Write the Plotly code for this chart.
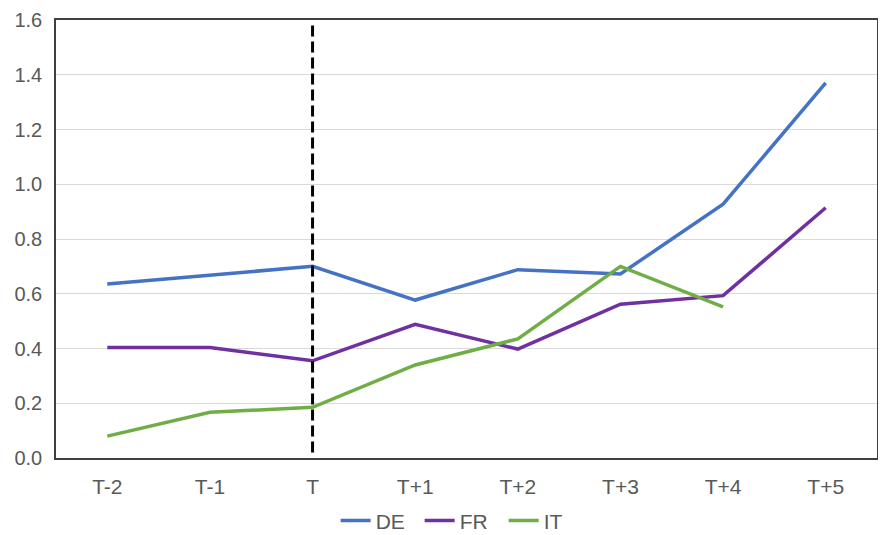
import plotly.graph_objects as go

# periods around the event T
periods = ["T-2", "T-1", "T", "T+1", "T+2", "T+3", "T+4", "T+5"]

de_values = [0.636, 0.667, 0.700, 0.577, 0.688, 0.672, 0.927, 1.370]
fr_values = [0.404, 0.404, 0.355, 0.488, 0.398, 0.562, 0.593, 0.914]
it_values = [0.080, 0.167, 0.185, 0.340, 0.435, 0.700, 0.552, None]

event_period = "T"

series = [
    ("DE", de_values, "#4472C4"),
    ("FR", fr_values, "#7030A0"),
    ("IT", it_values, "#70AD47"),
]

fig = go.Figure()

for name, vals, color in series:
    fig.add_trace(go.Scatter(
        x=periods,
        y=vals,
        name=name,
        mode="lines",
        line=dict(color=color, width=3.5),
    ))

# vertical dashed marker at T
fig.add_shape(
    type="line",
    xref="x", yref="y",
    x0=event_period, x1=event_period,
    y0=0.02, y1=1.58,
    line=dict(color="black", width=3, dash="11px,5px"),
)

fig.update_layout(
    width=886,
    height=535,
    margin=dict(l=48, r=17, t=12, b=85),
    paper_bgcolor="white",
    plot_bgcolor="white",
    font=dict(family="Liberation Sans, Arial, sans-serif", size=20, color="#595959"),
    showlegend=True,
    legend=dict(
        orientation="h",
        xref="container",
        x=0.512,
        xanchor="center",
        yref="container",
        y=0.003,
        yanchor="bottom",
        font=dict(size=21, color="#595959"),
        itemwidth=30,
        entrywidth=39,
        tracegroupgap=0,
    ),
)

fig.update_xaxes(
    type="category",
    range=[-0.5, len(periods) - 0.5],
    showgrid=False,
    showline=True,
    linecolor="#404040",
    linewidth=1.5,
    mirror=True,
    ticks="",
    tickfont=dict(size=21),
    ticklabelstandoff=9,
    ticklabeloverflow="allow",
    automargin=False,
)

fig.update_yaxes(
    range=[0, 1.6],
    dtick=0.2,
    tickformat=".1f",
    showgrid=True,
    gridcolor="#D9D9D9",
    gridwidth=1,
    showline=True,
    linecolor="#404040",
    linewidth=1.5,
    mirror=True,
    zeroline=False,
    ticks="",
    ticklabelstandoff=8,
    ticklabeloverflow="allow",
    automargin=False,
)

fig.write_html("out.html")
